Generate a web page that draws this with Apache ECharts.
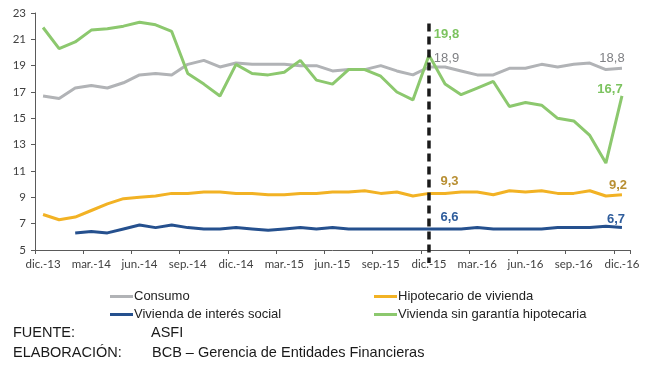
<!DOCTYPE html>
<html>
<head>
<meta charset="utf-8">
<script src="https://cdn.jsdelivr.net/npm/echarts@6/dist/echarts.min.js"></script>
<style>
  html, body { margin: 0; padding: 0; background: #ffffff; }
  #chart { width: 648px; height: 366px; }
</style>
</head>
<body>
<div id="chart"></div>
<script>
// Monthly categories, dic.-13 to dic.-16
const categories = [
  'dic.-13','ene.-14','feb.-14','mar.-14','abr.-14','may.-14','jun.-14','jul.-14','ago.-14','sep.-14','oct.-14','nov.-14',
  'dic.-14','ene.-15','feb.-15','mar.-15','abr.-15','may.-15','jun.-15','jul.-15','ago.-15','sep.-15','oct.-15','nov.-15',
  'dic.-15','ene.-16','feb.-16','mar.-16','abr.-16','may.-16','jun.-16','jul.-16','ago.-16','sep.-16','oct.-16','nov.-16',
  'dic.-16'
];

// Rates in percent
const consumo = [16.7,16.5,17.3,17.5,17.3,17.7,18.3,18.4,18.3,19.1,19.4,18.9,
  19.2,19.1,19.1,19.1,19.0,19.0,18.6,18.7,18.7,19.0,18.6,18.3,
  18.9,18.9,18.6,18.3,18.3,18.8,18.8,19.1,18.9,19.1,19.2,18.7,18.8];
const hipotecario = [7.7,7.3,7.5,8.0,8.5,8.9,9.0,9.1,9.3,9.3,9.4,9.4,
  9.3,9.3,9.2,9.2,9.3,9.3,9.4,9.4,9.5,9.3,9.4,9.1,
  9.3,9.3,9.4,9.4,9.2,9.5,9.4,9.5,9.3,9.3,9.5,9.1,9.2];
const interesSocial = [null,null,6.3,6.4,6.3,6.6,6.9,6.7,6.9,6.7,6.6,6.6,
  6.7,6.6,6.5,6.6,6.7,6.6,6.7,6.6,6.6,6.6,6.6,6.6,
  6.6,6.6,6.6,6.7,6.6,6.6,6.6,6.6,6.7,6.7,6.7,6.8,6.7];
const sinGarantia = [21.9,20.3,20.8,21.7,21.8,22.0,22.3,22.1,21.6,18.4,17.6,16.7,
  19.1,18.4,18.3,18.5,19.4,17.9,17.6,18.7,18.7,18.2,17.0,16.4,
  19.8,17.6,16.8,17.3,17.8,15.9,16.2,16.0,15.0,14.8,13.7,11.6,16.7];

const yTicks = { min: 5, max: 23, step: 2 };
const refMonth = 'dic.-15';

const COLORS = {
  consumo: '#b1b3b6',
  hipotecario: '#f2b224',
  social: '#25508e',
  sinGarantia: '#8cc86e'
};

const refIdx = categories.indexOf(refMonth);
const lastIdx = categories.length - 1;

function valueMarks(data, specs, style) {
  return {
    symbol: 'circle',
    symbolSize: 0,
    silent: true,
    label: Object.assign({
      show: true,
      position: 'inside',
      fontFamily: 'Liberation Sans, Arial, sans-serif',
      fontSize: 13,
      formatter: p => p.value.toFixed(1).replace('.', ',')
    }, style),
    data: specs.map(s => ({
      coord: [categories[s.i], data[s.i]],
      value: data[s.i],
      label: { offset: s.offset }
    }))
  };
}

function lineSeries(name, data, color, marks) {
  return {
    name: name,
    type: 'line',
    data: data,
    showSymbol: false,
    symbol: 'none',
    connectNulls: false,
    lineStyle: { color: color, width: 3 },
    itemStyle: { color: color },
    emphasis: { disabled: true },
    animation: false,
    markPoint: marks
  };
}

const chart = echarts.init(document.getElementById('chart'), null, { renderer: 'canvas' });

const legendText = {
  fontFamily: 'Liberation Sans, Arial, sans-serif',
  fontSize: 13,
  color: '#222222',
  lineHeight: 13,
  padding: [0, 0, 0, -4]
};

function legendColumn(left, names) {
  return {
    orient: 'vertical',
    left: left,
    top: 290,
    padding: 0,
    itemWidth: 23,
    itemHeight: 3,
    itemGap: 5,
    icon: 'rect',
    selectedMode: false,
    textStyle: legendText,
    data: names
  };
}

chart.setOption({
  animation: false,
  backgroundColor: '#ffffff',
  grid: { left: 35, right: 18, top: 13, bottom: 116 },
  xAxis: {
    type: 'category',
    data: categories,
    boundaryGap: true,
    axisLine: { lineStyle: { color: '#5a5a5a', width: 1 } },
    axisTick: { show: true, interval: 2, length: 4, lineStyle: { color: '#5a5a5a' } },
    axisLabel: {
      interval: 2,
      margin: 8,
      fontFamily: 'Lato, sans-serif',
      fontSize: 11.5,
      color: '#404040'
    },
    splitLine: { show: false }
  },
  yAxis: {
    type: 'value',
    min: yTicks.min,
    max: yTicks.max,
    interval: yTicks.step,
    axisLine: { show: true, lineStyle: { color: '#5a5a5a', width: 1 } },
    axisTick: { show: true, length: 4, lineStyle: { color: '#5a5a5a' } },
    axisLabel: {
      margin: 9,
      fontFamily: 'Lato, sans-serif',
      fontSize: 11.5,
      color: '#404040'
    },
    splitLine: { show: false }
  },
  legend: [
    legendColumn(110, ['Consumo', 'Vivienda de interés social']),
    legendColumn(374, ['Hipotecario de vivienda', 'Vivienda sin garantía hipotecaria'])
  ],
  series: [
    lineSeries('Consumo', consumo, COLORS.consumo,
      valueMarks(consumo, [
        { i: refIdx, offset: [17.5, -9] },
        { i: lastIdx, offset: [-10, -10] }
      ], { color: '#7f8084' })),
    lineSeries('Hipotecario de vivienda', hipotecario, COLORS.hipotecario,
      valueMarks(hipotecario, [
        { i: refIdx, offset: [20.5, -12] },
        { i: lastIdx, offset: [-4, -9] }
      ], { color: '#b88f33', fontWeight: 'bold' })),
    lineSeries('Vivienda de interés social', interesSocial, COLORS.social,
      valueMarks(interesSocial, [
        { i: refIdx, offset: [20.5, -12] },
        { i: lastIdx, offset: [-6, -8] }
      ], { color: '#2f5d9c', fontWeight: 'bold' })),
    lineSeries('Vivienda sin garantía hipotecaria', sinGarantia, COLORS.sinGarantia,
      valueMarks(sinGarantia, [
        { i: refIdx, offset: [17.5, -20.5] },
        { i: lastIdx, offset: [-12, -7] }
      ], { color: '#7cc35f', fontWeight: 'bold' }))
  ]
});

// Dashed reference line at the selected month, reaching past the axis
const xRef = chart.convertToPixel({ xAxisIndex: 0 }, refMonth);
const yTop = chart.convertToPixel({ yAxisIndex: 0 }, 22.2);
const yBase = chart.convertToPixel({ yAxisIndex: 0 }, yTicks.min);

const footFont = '14.5px "Liberation Sans", Arial, sans-serif';
chart.setOption({
  graphic: [
    {
      type: 'line',
      silent: true,
      z: 50,
      shape: { x1: xRef, y1: yTop, x2: xRef, y2: yBase + 13 },
      style: { stroke: '#1a1a1a', lineWidth: 3.5, lineDash: [8, 5] }
    },
    { type: 'text', left: 13, top: 325, style: { text: 'FUENTE:', font: footFont, fill: '#1a1a1a' } },
    { type: 'text', left: 151, top: 325, style: { text: 'ASFI', font: footFont, fill: '#1a1a1a' } },
    { type: 'text', left: 13, top: 345, style: { text: 'ELABORACIÓN:', font: footFont, fill: '#1a1a1a' } },
    { type: 'text', left: 152, top: 345, style: { text: 'BCB – Gerencia de Entidades Financieras', font: footFont, fill: '#1a1a1a' } }
  ]
});
</script>
</body>
</html>
